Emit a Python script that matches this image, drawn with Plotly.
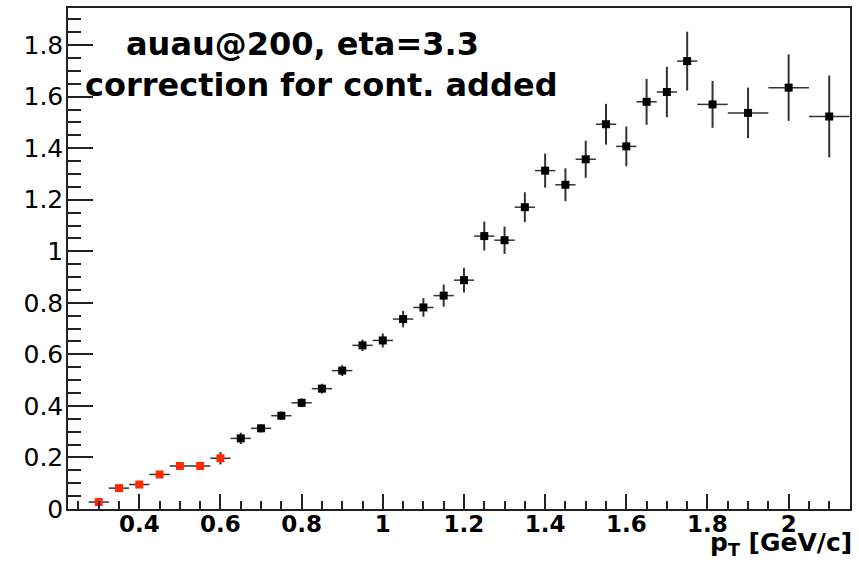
import plotly.graph_objects as go

# Red (lower pT) points
red_x = [0.30, 0.35, 0.40, 0.45, 0.50, 0.55, 0.60]
red_y = [0.027, 0.081, 0.095, 0.134, 0.167, 0.167, 0.197]
red_ey = [0.008, 0.009, 0.010, 0.011, 0.013, 0.012, 0.024]
red_ex = [0.025] * 7

# Black points
blk_x = [0.65, 0.70, 0.75, 0.80, 0.85, 0.90, 0.95, 1.00, 1.05, 1.10, 1.15, 1.20,
         1.25, 1.30, 1.35, 1.40, 1.45, 1.50, 1.55, 1.60, 1.65, 1.70, 1.75,
         1.8125, 1.90, 2.00, 2.10]
blk_y = [0.274, 0.313, 0.362, 0.412, 0.467, 0.537, 0.635, 0.654, 0.737, 0.782, 0.828, 0.888,
         1.059, 1.043, 1.171, 1.313, 1.258, 1.357, 1.493, 1.407, 1.580, 1.618, 1.738,
         1.570, 1.537, 1.635, 1.523]
blk_ey = [0.022, 0.016, 0.016, 0.017, 0.019, 0.021, 0.022, 0.027, 0.032, 0.036, 0.043, 0.048,
          0.056, 0.053, 0.058, 0.066, 0.064, 0.072, 0.079, 0.077, 0.089, 0.098, 0.114,
          0.091, 0.098, 0.129, 0.159]
blk_ex = [0.025] * 23 + [0.0375, 0.05, 0.05, 0.05]

x_ticks = [0.4, 0.6, 0.8, 1.0, 1.2, 1.4, 1.6, 1.8, 2.0]
x_labels = ["0.4", "0.6", "0.8", "1", "1.2", "1.4", "1.6", "1.8", "2"]
y_ticks = [0, 0.2, 0.4, 0.6, 0.8, 1.0, 1.2, 1.4, 1.6, 1.8]
y_labels = ["0", "0.2", "0.4", "0.6", "0.8", "1", "1.2", "1.4", "1.6", "1.8"]

ERRC = "#333333"

fig = go.Figure()
fig.add_trace(go.Scatter(
    x=blk_x, y=blk_y, mode="markers",
    marker=dict(symbol="square", size=8, color="black"),
    error_y=dict(type="data", array=blk_ey, width=0, thickness=2, color=ERRC),
    error_x=dict(type="data", array=blk_ex, width=0, thickness=1.5, color=ERRC),
    showlegend=False,
))
fig.add_trace(go.Scatter(
    x=red_x, y=red_y, mode="markers",
    marker=dict(symbol="square", size=8, color="#ff2a00"),
    error_y=dict(type="data", array=red_ey, width=0, thickness=2, color=ERRC),
    error_x=dict(type="data", array=red_ex, width=0, thickness=1.5, color=ERRC),
    showlegend=False,
))

fig.update_layout(
    width=859, height=564,
    margin=dict(l=68, r=9, t=6, b=55),
    paper_bgcolor="white", plot_bgcolor="white",
    xaxis=dict(
        range=[0.2243, 2.1512],
        showgrid=False, zeroline=False,
        showline=True, linecolor="#222222", linewidth=1.5, mirror=True,
        ticks="inside", ticklen=15, tickwidth=1.5, tickcolor="#222222",
        tickvals=x_ticks, ticktext=x_labels,
        tickfont=dict(family="DejaVu Sans", size=23, color="black", weight="bold"),
        ticklabelstandoff=-6,
        minor=dict(ticks="inside", ticklen=8, tickwidth=1.5, tickcolor="#222222",
                   dtick=0.05, tick0=0, showgrid=False),
    ),
    yaxis=dict(
        range=[0, 1.944],
        showgrid=False, zeroline=False,
        showline=True, linecolor="#222222", linewidth=1.5, mirror=True,
        ticks="inside", ticklen=25, tickwidth=1.5, tickcolor="#222222",
        tickvals=y_ticks, ticktext=y_labels,
        tickfont=dict(family="DejaVu Sans", size=25, color="black"),
        ticklabelstandoff=-2,
        minor=dict(ticks="inside", ticklen=13, tickwidth=1.5, tickcolor="#222222",
                   dtick=0.05, tick0=0, showgrid=False),
    ),
    annotations=[
        dict(text="auau@200, eta=3.3", xref="paper", yref="paper",
             x=0.072, y=0.928, xanchor="left", yanchor="middle", showarrow=False,
             font=dict(family="DejaVu Sans", size=32, color="black", weight="bold")),
        dict(text="correction for cont. added", xref="paper", yref="paper",
             x=0.019, y=0.846, xanchor="left", yanchor="middle", showarrow=False,
             font=dict(family="DejaVu Sans", size=32, color="black", weight="bold")),
        dict(text="p<sub>T</sub> [GeV/c]", xref="paper", yref="paper",
             x=1.005, y=-0.07, xanchor="right", yanchor="middle", showarrow=False,
             font=dict(family="DejaVu Sans", size=25, color="black", weight="bold")),
    ],
)

fig.write_html("out.html")
